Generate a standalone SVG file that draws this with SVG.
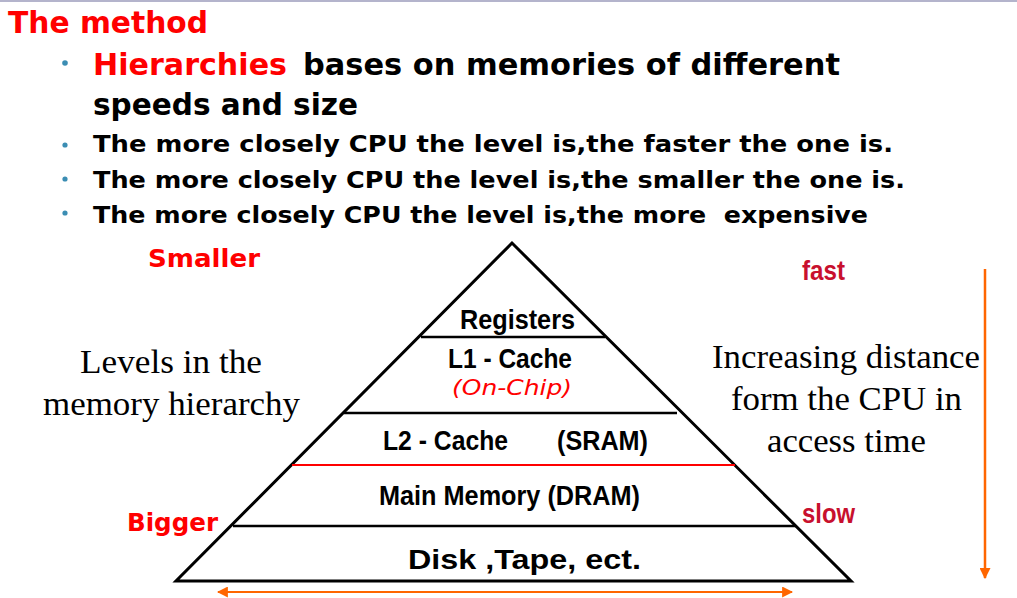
<svg xmlns="http://www.w3.org/2000/svg" width="1017" height="598" viewBox="0 0 1017 598">
<defs>
<style>
.comic{font-family:"DejaVu Sans","Liberation Sans",sans-serif;font-weight:bold}
.narrow{font-family:"Liberation Sans","Arial",sans-serif;font-weight:bold}
.serif{font-family:"Liberation Serif","Times New Roman",serif;font-size:33px;fill:#000}
.red{fill:#ff0000}
.crim{fill:#c8102e;font-family:"Liberation Sans",sans-serif;font-size:27px;font-weight:bold}
.chip{font-family:"DejaVu Sans","Liberation Sans",sans-serif;font-style:italic;font-weight:normal;fill:#ff0000}
.bul{fill:#3b8db3}
.edge{stroke:#000;stroke-width:3;fill:none;stroke-linejoin:miter}
.hl{stroke:#000;stroke-width:2.5}
</style>
<marker id="ah" viewBox="0 0 10 10" refX="9" refY="5" markerWidth="11" markerHeight="11" orient="auto-start-reverse" markerUnits="userSpaceOnUse">
<path d="M0,0 L10,5 L0,10 z" fill="#ff6600"/>
</marker>
</defs>
<rect width="1017" height="598" fill="#ffffff"/>
<line x1="0" y1="1" x2="1017" y2="1" stroke="#b4b4cc" stroke-width="2"/>

<g id="header">
<text class="comic red" x="8" y="33" font-size="31" textLength="200" lengthAdjust="spacingAndGlyphs">The method</text>
<circle class="bul" cx="65" cy="63" r="2.8"/>
<text class="comic red" x="93" y="75" font-size="30" textLength="194" lengthAdjust="spacingAndGlyphs">Hierarchies</text>
<text class="comic" x="303" y="75" font-size="30" textLength="537" lengthAdjust="spacingAndGlyphs">bases on memories of different</text>
<text class="comic" x="93" y="115" font-size="30" textLength="265" lengthAdjust="spacingAndGlyphs">speeds and size</text>
<circle class="bul" cx="65" cy="145" r="2.6"/>
<text class="comic" x="93" y="152" font-size="23" textLength="800" lengthAdjust="spacingAndGlyphs">The more closely CPU the level is,the faster the one is.</text>
<circle class="bul" cx="65" cy="179" r="2.6"/>
<text class="comic" x="93" y="188" font-size="23" textLength="812" lengthAdjust="spacingAndGlyphs">The more closely CPU the level is,the smaller the one is.</text>
<circle class="bul" cx="65" cy="213" r="2.6"/>
<text class="comic" x="93" y="223" font-size="23" textLength="775" lengthAdjust="spacingAndGlyphs" xml:space="preserve">The more closely CPU the level is,the more  expensive</text>
</g>

<g id="side-labels">
<text class="comic red" x="148" y="267" font-size="24" textLength="112" lengthAdjust="spacingAndGlyphs">Smaller</text>
<text class="comic red" x="127" y="531" font-size="24" textLength="91" lengthAdjust="spacingAndGlyphs">Bigger</text>
<text class="crim" x="802" y="280" textLength="43" lengthAdjust="spacingAndGlyphs">fast</text>
<text class="crim" x="802" y="523" textLength="53" lengthAdjust="spacingAndGlyphs">slow</text>
<text class="serif" x="80" y="373" textLength="182" lengthAdjust="spacingAndGlyphs">Levels in the</text>
<text class="serif" x="43" y="415" textLength="257" lengthAdjust="spacingAndGlyphs">memory hierarchy</text>
<text class="serif" x="712" y="368" textLength="268" lengthAdjust="spacingAndGlyphs">Increasing distance</text>
<text class="serif" x="731" y="410" textLength="231" lengthAdjust="spacingAndGlyphs">form the CPU in</text>
<text class="serif" x="767" y="452" textLength="159" lengthAdjust="spacingAndGlyphs">access time</text>
</g>

<g id="pyramid">
<polygon class="edge" points="512,243 176,581 851,581"/>
<line class="hl" x1="421" y1="337" x2="605" y2="337"/>
<line class="hl" x1="344" y1="413" x2="677" y2="413"/>
<line x1="292" y1="465" x2="735" y2="465" stroke="#ff0000" stroke-width="2"/>
<line class="hl" x1="233" y1="526" x2="796" y2="526"/>
</g>

<g id="registers">
<text class="narrow" x="460" y="329" font-size="28" textLength="115" lengthAdjust="spacingAndGlyphs">Registers</text>
</g>
<g id="l1-cache">
<text class="narrow" x="448" y="368" font-size="27" textLength="124" lengthAdjust="spacingAndGlyphs">L1 - Cache</text>
<text class="chip" x="452" y="395" font-size="22" textLength="120" lengthAdjust="spacingAndGlyphs">(On-Chip)</text>
</g>
<g id="l2-cache">
<text class="narrow" x="383" y="450" font-size="27" textLength="125" lengthAdjust="spacingAndGlyphs">L2 - Cache</text>
<text class="narrow" x="557" y="450" font-size="27" textLength="91" lengthAdjust="spacingAndGlyphs">(SRAM)</text>
</g>
<g id="main-memory">
<text class="narrow" x="379" y="505" font-size="27" textLength="261" lengthAdjust="spacingAndGlyphs">Main Memory (DRAM)</text>
</g>
<g id="disk">
<text class="narrow" x="408" y="569" font-size="28" textLength="233" lengthAdjust="spacingAndGlyphs">Disk ,Tape, ect.</text>
</g>

<g id="connectors">
<line x1="985" y1="269" x2="985" y2="578" stroke="#ff6600" stroke-width="2.5" marker-end="url(#ah)"/>
<line x1="218" y1="592" x2="792" y2="592" stroke="#ff6600" stroke-width="2" marker-start="url(#ah)" marker-end="url(#ah)"/>
</g>
</svg>
